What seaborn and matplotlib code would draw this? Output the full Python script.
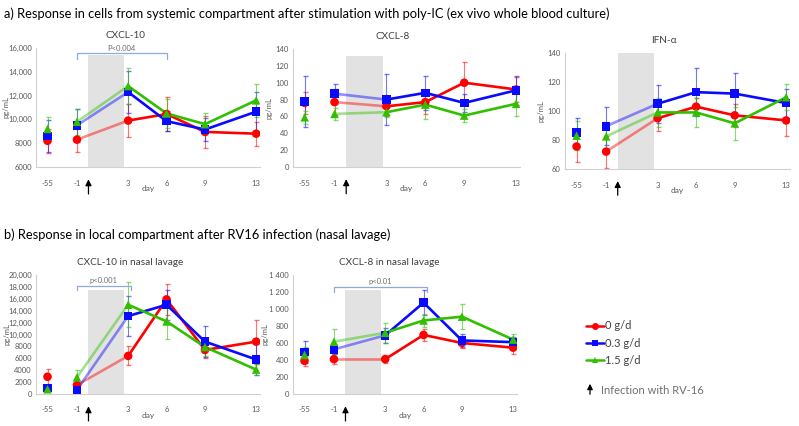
import pandas as pd
import matplotlib.pyplot as plt
import seaborn as sns
from matplotlib.lines import Line2D
from matplotlib.patches import FancyArrowPatch

# x axis: days of the study (-55 drawn on a broken axis)
days = ['-55', '-1', '3', '6', '9', '13']
day_pos = [-3.3, -1, 3, 6, 9, 13]
doses = ['0 g/d', '0.3 g/d', '1.5 g/d']
colors = ['#ff0000', '#0a0aff', '#30c000']
marks = ['o', 's', '^']

# a) whole blood, rows = doses (0, 0.3, 1.5 g/d)
cxcl10_wb = [[8200, 8300, 9900, 10450, 8950, 8800],
             [8600, 9500, 12300, 9850, 9150, 10650],
             [9200, 9800, 12800, 10500, 9600, 11600]]
cxcl10_wb_err = [[1000, 1000, 1400, 1450, 1350, 1000],
                 [1350, 1400, 1800, 850, 950, 1650],
                 [1000, 1100, 1500, 1200, 900, 1400]]
cxcl8_wb = [[76, 77, 72, 77, 100, 92],
            [78, 87, 80, 88, 76, 91],
            [59, 63, 65, 74, 61, 75]]
cxcl8_wb_err = [[13, 15, 12, 14, 24, 15],
                [30, 12, 30, 20, 11, 17],
                [8, 7, 6, 17, 8, 14]]
ifna_wb = [[75.5, 72, 95, 103, 97, 93.5],
           [85, 89.5, 105, 113, 112, 105.5],
           [83, 82.5, 99, 99, 91.5, 109.5]]
ifna_wb_err = [[10.5, 11, 9, 6, 8, 11],
               [10, 13, 13, 16.5, 14.5, 10],
               [10, 10, 10, 10, 11.5, 9]]

# b) nasal lavage
cxcl10_nl = [[2900, 1500, 6400, 15900, 7400, 8800],
             [1000, 700, 13100, 15000, 8800, 5800],
             [800, 2800, 15000, 12200, 7900, 4100]]
cxcl10_nl_err = [[1300, 500, 1600, 2600, 1400, 3700],
                 [500, 300, 3400, 2500, 2600, 2600],
                 [300, 1300, 3800, 2900, 1500, 900]]
cxcl8_nl = [[390, 410, 410, 695, 600, 545],
            [495, 525, 690, 1075, 630, 610],
            [460, 615, 720, 865, 910, 640]]
cxcl8_nl_err = [[60, 60, 45, 70, 60, 70],
                [130, 60, 90, 150, 80, 60],
                [90, 150, 120, 80, 150, 70]]

sns.set_theme(style='white')
plt.rcParams['font.family'] = ['Lato', 'DejaVu Sans']

palette = dict(zip(doses, colors))
markers = dict(zip(doses, marks))

fig = plt.figure(figsize=(7.99, 4.26), dpi=100)


def add_ax(l, t, r, b):
    return fig.add_axes([l / 799, 1 - b / 426, (r - l) / 799, (b - t) / 426])


def draw(ax, means, errs, title, tx, ylx, ylim, yticks, ylabels, shade_top, bracket):
    rows = []
    for dose, m, e in zip(doses, means, errs):
        for d, p, v, s in zip(days, day_pos, m, e):
            rows.append(dict(dose=dose, day=d, pos=p, value=v, err=s))
    df = pd.DataFrame(rows)

    ax.fill_between([-0.1, 2.7], ylim[0], shade_top, color='#e2e2e2', lw=0, zorder=0)
    for dose, sub in df.groupby('dose', sort=False):
        ax.errorbar(sub['pos'], sub['value'], yerr=sub['err'], fmt='none',
                    ecolor=palette[dose], alpha=0.55, lw=0.8, capsize=1.8, zorder=2)
    sns.lineplot(data=df[df['pos'] >= 3], x='pos', y='value', hue='dose',
                 palette=palette, lw=1.9, legend=False, ax=ax, zorder=3, estimator=None)
    sns.lineplot(data=df[df['pos'].between(-1, 3)], x='pos', y='value', hue='dose',
                 palette=palette, lw=1.9, alpha=0.45, legend=False, ax=ax, zorder=3,
                 estimator=None)
    sns.scatterplot(data=df, x='pos', y='value', hue='dose', style='dose',
                    palette=palette, markers=markers, s=38, edgecolor='none',
                    legend=False, ax=ax, zorder=4)

    ax.set_xlim(-4.2, 13.3)
    ax.set_ylim(*ylim)
    ax.set_xticks(day_pos)
    ax.set_xticklabels(days)
    ax.set_yticks(yticks)
    ax.set_yticklabels(ylabels)
    ax.tick_params(labelsize=5.5, labelcolor='#595959', length=0, pad=9)
    ax.tick_params(axis='y', pad=3)
    ax.set_xlabel('day', fontsize=6, color='#595959', labelpad=-1)
    ax.set_ylabel('pg/mL', fontsize=5.5, color='#595959')
    ax.yaxis.set_label_coords(ylx, 0.5)
    for side in ['top', 'right']:
        ax.spines[side].set_visible(False)
    for side in ['left', 'bottom']:
        ax.spines[side].set_color('#d0d0d0')
        ax.spines[side].set_linewidth(0.8)
    ax.text(tx, 1.07, title, transform=ax.transAxes, ha='center', va='bottom',
            fontsize=7.2, color='#404040')

    # infection arrow
    ax.annotate('', xy=(-0.1, -0.08), xytext=(-0.1, -0.25),
                xycoords=('data', 'axes fraction'), textcoords=('data', 'axes fraction'),
                arrowprops=dict(arrowstyle='-|>', color='black', lw=0.9,
                                mutation_scale=9), annotation_clip=False)

    if bracket is not None:
        x0, x1, y, drop, label, ly = bracket
        ax.plot([x0, x0, x1, x1], [y - drop, y, y, y - drop], color='#8eaadb', lw=0.9,
                clip_on=False)
        ax.text((x0 + x1) / 2, ly, label, ha='center', va='center', fontsize=5.5,
                color='#707070')


ax1 = add_ax(36, 48, 260, 167)
ax2 = add_ax(293, 49, 520, 167)
ax3 = add_ax(565, 53, 790, 169)
ax4 = add_ax(36, 275, 260, 394)
ax5 = add_ax(293, 275, 517, 394)

draw(ax1, cxcl10_wb, cxcl10_wb_err, 'CXCL-10', 0.40, -0.12, (6000, 16000),
     [6000, 8000, 10000, 12000, 14000, 16000],
     ['6000', '8000', '10,000', '12,000', '14,000', '16,000'], 15400,
     (-1, 6, 15550, 500, 'P<0.004', 16000))
draw(ax2, cxcl8_wb, cxcl8_wb_err, 'CXCL-8', 0.44, -0.09, (0, 140),
     list(range(0, 141, 20)), [str(v) for v in range(0, 141, 20)], 132, None)
draw(ax3, ifna_wb, ifna_wb_err, 'IFN-α', 0.44, -0.09, (60, 140),
     [60, 80, 100, 120, 140], ['60', '80', '100', '120', '140'], 140, None)
draw(ax4, cxcl10_nl, cxcl10_nl_err, 'CXCL-10 in nasal lavage', 0.42, -0.115, (0, 20000),
     list(range(0, 20001, 2000)),
     ['0', '2000', '4000', '6000', '8000', '10,000', '12,000', '14,000', '16,000',
      '18,000', '20,000'], 17500,
     (-1, 3.2, 18100, 700, 'p<0.001', 19100))
draw(ax5, cxcl8_nl, cxcl8_nl_err, 'CXCL-8 in nasal lavage', 0.43, -0.11, (0, 1400),
     list(range(0, 1401, 200)),
     ['0', '200', '400', '600', '800', '1 000', '1 200', '1 400'], 1220,
     (-1, 6.3, 1255, 50, 'p<0.01', 1325))

fig.text(4 / 799, 1 - 14 / 426,
         'a) Response in cells from systemic compartment after stimulation with poly-IC '
         '(ex vivo whole blood culture)', fontsize=9.3, va='center', color='black')
fig.text(4 / 799, 1 - 235 / 426,
         'b) Response in local compartment after RV16 infection (nasal lavage)',
         fontsize=9.3, va='center', color='black')

handles = [Line2D([0], [0], color=c, marker=m, lw=1.8, markersize=5, markeredgewidth=0)
           for c, m in zip(colors, marks)]
fig.legend(handles, doses, loc='upper left', bbox_to_anchor=(582 / 799, 1 - 316 / 426),
           frameon=False, fontsize=8, handlelength=1.6, handletextpad=0.1,
           labelspacing=0.55, labelcolor='#404040', borderaxespad=0)
fig.text(601 / 799, 1 - 390 / 426, 'Infection with RV-16', fontsize=8, color='#707070',
         va='center')
fig.patches.append(FancyArrowPatch(
    (590 / 799, 1 - 397 / 426), (590 / 799, 1 - 381 / 426), transform=fig.transFigure,
    arrowstyle='-|>', mutation_scale=8, color='black', lw=0.9))

fig.savefig('out.png', dpi=100)
